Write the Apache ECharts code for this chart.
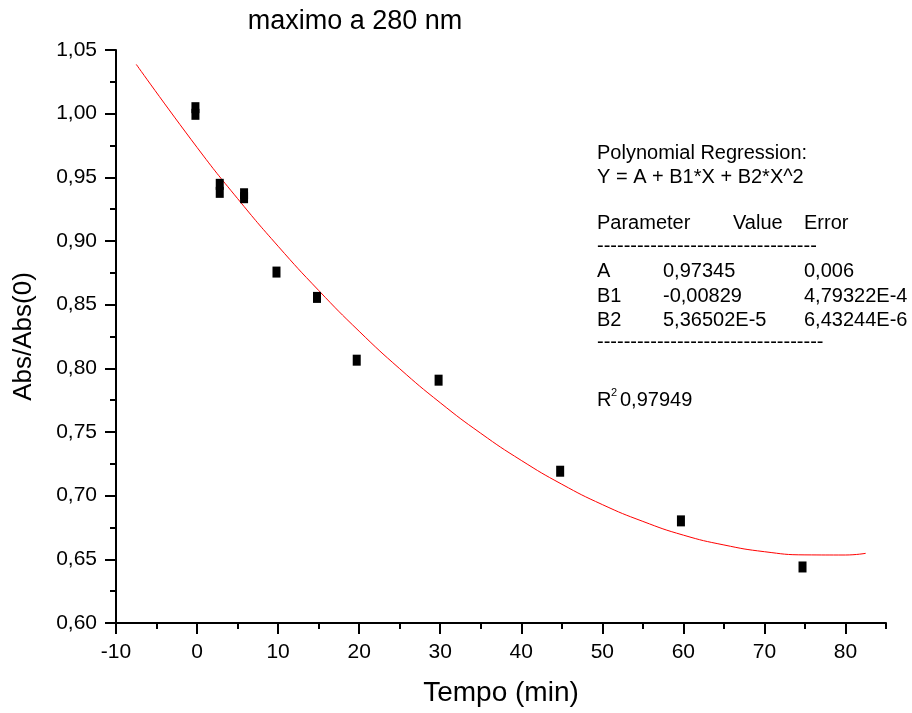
<!DOCTYPE html>
<html>
<head>
<meta charset="utf-8">
<script src="https://cdn.jsdelivr.net/npm/echarts@6/dist/echarts.min.js"></script>
<style>
  html, body { margin: 0; padding: 0; background: #fff; }
  #chart { width: 912px; height: 713px; }
</style>
</head>
<body>
<div id="chart"></div>
<script>
// measured points (repeated readings at 0, 3 and 6 min)
const timeMin = [-0.2, -0.2, 2.8, 2.8, 5.8, 5.8, 9.8, 14.8, 19.7, 29.8, 44.8, 59.7, 74.7];
const absRatio = [1.0047, 0.9995, 0.9445, 0.9382, 0.9371, 0.934, 0.8756, 0.8557, 0.8064, 0.7907, 0.7192, 0.6802, 0.644];

// red regression curve
const fitTime = [-7.5, 0, 5, 10, 15, 20, 25, 30, 35, 40, 45, 50, 55, 60, 65, 70, 75, 80, 82.5];
const fitAbs = [1.0387, 0.9735, 0.9333, 0.8959, 0.8612, 0.8291, 0.7997, 0.773, 0.749, 0.7277, 0.709, 0.693, 0.6798, 0.669, 0.6613, 0.656, 0.6535, 0.6534, 0.6547];

// axis ranges / ticks
const xMin = -10, xMax = 85, xStep = 10, xMinorStep = 5;
const xLabelMax = 80;
const yMin = 0.6, yMax = 1.05, yStep = 0.05;

// fit report text
const reportHead = ['Polynomial Regression:', 'Y = A + B1*X + B2*X^2'];
const paramNames = ['A', 'B1', 'B2'];
const paramValues = ['0,97345', '-0,00829', '5,36502E-5'];
const paramErrors = ['0,006', '4,79322E-4', '6,43244E-6'];
const rSquared = '0,97949';

const FONT = '"Liberation Sans", Arial, sans-serif';

const chart = echarts.init(document.getElementById('chart'));

// plot box: x from 116 to 886, y from 50 to 623
const plotLeft = 116, plotRight = 26;
const plotW = 912 - plotLeft - plotRight;
// a second grid ending at x = 80 carries the long ticks and labels
const labelRight = plotRight + plotW * (xMax - xLabelMax) / (xMax - xMin);

function txt(x, y, text, size, extra) {
  return {
    type: 'text',
    x: x,
    y: y,
    style: Object.assign({
      text: text,
      fontFamily: FONT,
      fontSize: size,
      fill: '#000',
      verticalAlign: 'middle'
    }, extra || {})
  };
}

const graphics = [];
graphics.push(txt(355, 22, 'maximo a 280 nm', 27, { align: 'center' }));
graphics.push(txt(597, 153, reportHead[0], 20));
graphics.push(txt(597, 177, reportHead[1], 20));
graphics.push(txt(597, 223, 'Parameter', 20));
graphics.push(txt(733, 223, 'Value', 20));
graphics.push(txt(804, 223, 'Error', 20));
graphics.push(txt(597, 246, '-'.repeat(33), 20));
paramNames.forEach((p, i) => {
  const y = 271.5 + i * 24.5;
  graphics.push(txt(597, y, p, 20));
  graphics.push(txt(663, y, paramValues[i], 20));
  graphics.push(txt(804, y, paramErrors[i], 20));
});
graphics.push(txt(597, 342, '-'.repeat(34), 20));
graphics.push(txt(597, 400, 'R', 20));
graphics.push(txt(611, 393, '2', 11));
graphics.push(txt(620, 400, rSquared, 20));

const blackLine = { color: '#000', width: 2 };

chart.setOption({
  animation: false,
  backgroundColor: '#fff',
  grid: [
    { left: plotLeft, right: plotRight, top: 50, bottom: 90 },
    { left: plotLeft, right: labelRight, top: 50, bottom: 90 }
  ],
  graphic: graphics,
  xAxis: [
    {
      type: 'value',
      gridIndex: 0,
      min: xMin,
      max: xMax,
      interval: xMinorStep,
      position: 'bottom',
      axisLine: { show: true, onZero: false, lineStyle: blackLine },
      axisTick: { show: true, length: 6, lineStyle: blackLine },
      axisLabel: { show: false },
      splitLine: { show: false },
      name: 'Tempo (min)',
      nameLocation: 'middle',
      nameGap: 56,
      nameTextStyle: { fontFamily: FONT, fontSize: 28, color: '#000' }
    },
    {
      type: 'value',
      gridIndex: 1,
      min: xMin,
      max: xLabelMax,
      interval: xStep,
      position: 'bottom',
      axisLine: { show: false, onZero: false },
      axisTick: { show: true, length: 11, lineStyle: blackLine },
      axisLabel: {
        margin: 19,
        fontFamily: FONT,
        fontSize: 21,
        color: '#000'
      },
      splitLine: { show: false }
    }
  ],
  yAxis: [
    {
      type: 'value',
      gridIndex: 0,
      min: yMin,
      max: yMax,
      interval: yStep,
      axisLine: { show: true, onZero: false, lineStyle: blackLine },
      axisTick: { show: true, length: 11, lineStyle: blackLine },
      minorTick: { show: true, splitNumber: 2, length: 6, lineStyle: blackLine },
      axisLabel: {
        margin: 19,
        fontFamily: FONT,
        fontSize: 21,
        color: '#000',
        formatter: v => v.toFixed(2).replace('.', ',')
      },
      splitLine: { show: false },
      name: 'Abs/Abs(0)',
      nameLocation: 'middle',
      nameGap: 79,
      nameTextStyle: { fontFamily: FONT, fontSize: 26, color: '#000' }
    },
    {
      type: 'value',
      gridIndex: 1,
      min: yMin,
      max: yMax,
      show: false
    }
  ],
  series: [
    {
      type: 'line',
      xAxisIndex: 0,
      yAxisIndex: 0,
      data: fitTime.map((t, i) => [t, fitAbs[i]]),
      smooth: true,
      showSymbol: false,
      lineStyle: { color: '#ff0000', width: 1 },
      z: 2
    },
    {
      type: 'scatter',
      xAxisIndex: 0,
      yAxisIndex: 0,
      data: timeMin.map((t, i) => [t, absRatio[i]]),
      symbol: 'rect',
      symbolSize: [8, 11],
      itemStyle: { color: '#000', opacity: 1 },
      z: 3
    }
  ]
});
</script>
</body>
</html>
